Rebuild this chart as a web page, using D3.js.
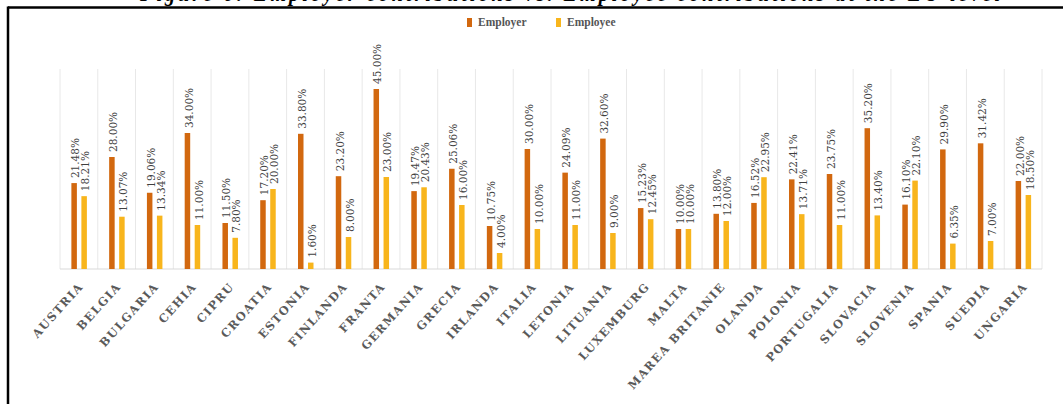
<!DOCTYPE html>
<html>
<head>
<meta charset="utf-8">
<script src="https://cdn.jsdelivr.net/npm/d3@7"></script>
<style>
  html, body { margin: 0; padding: 0; background: #fff; }
  svg { display: block; }
</style>
</head>
<body>
<svg id="chart" width="1063" height="404"></svg>
<script>
const categories = ["AUSTRIA","BELGIA","BULGARIA","CEHIA","CIPRU","CROATIA","ESTONIA","FINLANDA","FRANTA","GERMANIA","GRECIA","IRLANDA","ITALIA","LETONIA","LITUANIA","LUXEMBURG","MALTA","MAREA BRITANIE","OLANDA","POLONIA","PORTUGALIA","SLOVACIA","SLOVENIA","SPANIA","SUEDIA","UNGARIA"];
const employer = [21.48,28.00,19.06,34.00,11.50,17.20,33.80,23.20,45.00,19.47,25.06,10.75,30.00,24.09,32.60,15.23,10.00,13.80,16.52,22.41,23.75,35.20,16.10,29.90,31.42,22.00];
const employee = [18.21,13.07,13.34,11.00,7.80,20.00,1.60,8.00,23.00,20.43,16.00,4.00,10.00,11.00,9.00,12.45,10.00,12.00,22.95,13.71,11.00,13.40,22.10,6.35,7.00,18.50];
const seriesNames = ["Employer","Employee"];
const colors = ["#D2680F","#F8B51C"];
const titleText = "Figure 6: Employer contributions vs. Employee contributions at the EU level";

const svg = d3.select("#chart");

// title, cropped at the very top as in the source image
svg.append("text")
  .attr("x", 140).attr("y", 1)
  .attr("textLength", 860).attr("lengthAdjust", "spacing")
  .style("font-family", "'Liberation Serif', serif")
  .style("font-style", "italic").style("font-weight", "bold")
  .style("font-size", "20px").attr("fill", "#000")
  .text(titleText);

// frame
svg.append("line").attr("x1", 8).attr("x2", 1063).attr("y1", 7.5).attr("y2", 7.5)
  .attr("stroke", "#000").attr("stroke-width", 2.5);
svg.append("line").attr("x1", 8).attr("x2", 8).attr("y1", 6.5).attr("y2", 404)
  .attr("stroke", "#000").attr("stroke-width", 2.5);

const x = d3.scaleBand().domain(categories).range([60, 1042]).paddingInner(0).paddingOuter(0);
const y = d3.scaleLinear().domain([0, 50]).range([269, 69]);

// vertical separators
const bounds = categories.map(c => x(c)).concat([x.range()[1]]);
svg.append("g").selectAll("line").data(bounds).join("line")
  .attr("x1", d => d).attr("x2", d => d)
  .attr("y1", y(50)).attr("y2", y(0))
  .attr("stroke", "#e8e8e8").attr("stroke-width", 1);

// baseline
svg.append("line").attr("x1", x.range()[0]).attr("x2", x.range()[1])
  .attr("y1", y(0)).attr("y2", y(0))
  .attr("stroke", "#d9d9d9").attr("stroke-width", 1);

const bw = 5.5;
const offsets = [-7.5, 2.5];
const data = categories.map((c, i) => ({c, vals: [employer[i], employee[i]]}));

[0, 1].forEach(s => {
  svg.append("g").selectAll("rect").data(data).join("rect")
    .attr("x", d => x(d.c) + x.bandwidth() / 2 + offsets[s])
    .attr("width", bw)
    .attr("y", d => y(d.vals[s]))
    .attr("height", d => y(0) - y(d.vals[s]))
    .attr("fill", colors[s]);

  svg.append("g").selectAll("text").data(data).join("text")
    .attr("transform", d => {
      const cx = x(d.c) + x.bandwidth() / 2 + offsets[s] + bw / 2 + 1.5;
      const cy = y(d.vals[s]) - 5;
      return `translate(${cx},${cy}) rotate(-90)`;
    })
    .attr("text-anchor", "start")
    .attr("dy", "0.35em")
    .style("font-family", "'DejaVu Serif', serif")
    .style("font-size", "10.5px")
    .attr("fill", "#3f3f3f")
    .text(d => d.vals[s].toFixed(2) + "%");
});

// x axis labels
svg.append("g").selectAll("text").data(categories).join("text")
  .attr("transform", d => `translate(${x(d) + x.bandwidth() / 2 + 5},287) rotate(-48)`)
  .attr("text-anchor", "end")
  .style("font-family", "'DejaVu Serif', serif")
  .style("font-weight", "bold")
  .style("font-size", "11.5px")
  .style("letter-spacing", "1.4px")
  .attr("fill", "#5a5a5a")
  .text(d => d);

// legend
const legend = svg.append("g");
const legX = [467, 556];
seriesNames.forEach((n, i) => {
  legend.append("rect").attr("x", legX[i]).attr("y", 18).attr("width", 5).attr("height", 9).attr("fill", colors[i]);
  legend.append("text").attr("x", legX[i] + 11).attr("y", 26)
    .style("font-family", "'Liberation Serif', serif")
    .style("font-weight", "bold")
    .style("font-size", "11.5px")
    .attr("fill", "#555")
    .text(n);
});
</script>
</body>
</html>
